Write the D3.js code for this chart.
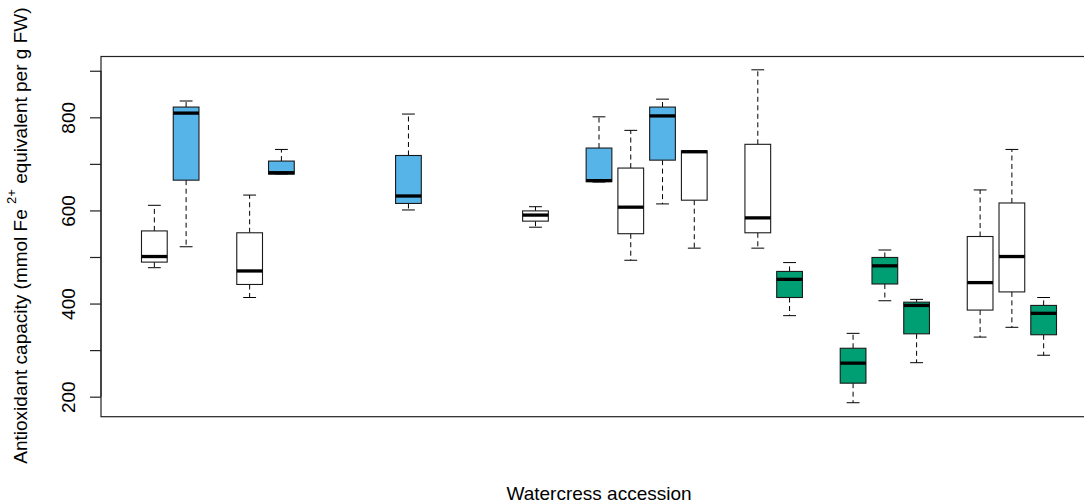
<!DOCTYPE html>
<html>
<head>
<meta charset="utf-8">
<script src="https://cdn.jsdelivr.net/npm/d3@7"></script>
<style>
  html, body { margin: 0; padding: 0; background: #fff; }
  svg { display: block; font-family: "Liberation Sans", Arial, Helvetica, sans-serif; }
</style>
</head>
<body>
<svg id="chart" width="1084" height="504"></svg>
<script>
// Slot position of each accession along the x axis (gaps are empty slots)
const accession = [1, 2, 4, 5, 9, 13, 15, 16, 17, 18, 20, 21, 23, 24, 25, 27, 28, 29];
const group     = ["none","blue","none","blue","blue","none","blue","none","blue","none","none","green","green","green","green","none","none","green"];
const whiskerLow  = [477, 522, 413, 678, 601, 564, 661, 493, 614, 519, 519, 374, 187, 406, 273, 328, 349, 289];
const q1          = [489, 665, 441, 678, 615, 577, 662, 550, 708, 622, 552, 413, 229, 442, 335, 386, 425, 333];
const median      = [501, 809, 470, 681, 631, 590, 664, 607, 803, 726, 584, 452, 272, 481, 396, 445, 501, 379];
const q3          = [556, 822, 552, 706, 718, 599, 734, 691, 822, 728, 742, 469, 304, 499, 403, 544, 616, 396];
const whiskerHigh = [611, 835, 633, 731, 807, 608, 801, 772, 839, 728, 902, 488, 336, 515, 409, 644, 731, 413];
const yTicks = [200, 300, 400, 500, 600, 700, 800, 900];
const yTickLabels = ["200", "", "400", "", "600", "", "800", ""];
const xTitle = "Watercress accession";

const fills = { none: "#ffffff", blue: "#56B4E9", green: "#009E73" };

const svg = d3.select("#chart");
const plot = { left: 101, right: 1097, top: 56.5, bottom: 416.7 };

const x = d3.scaleLinear().domain([-0.68, 30.68]).range([plot.left, plot.right]);
const y = d3.scaleLinear().domain([157, 930.6]).range([plot.bottom, plot.top]);

const unit = x(1) - x(0);
const boxW = 0.81 * unit;
const capW = boxW / 2;

const data = accession.map((p, i) => ({
  pos: p, g: group[i], lo: whiskerLow[i], q1: q1[i], med: median[i], q3: q3[i], hi: whiskerHigh[i]
}));

const g = svg.append("g");

// whiskers (dashed)
g.selectAll(".wl").data(data).enter().append("line")
  .attr("x1", d => x(d.pos)).attr("x2", d => x(d.pos))
  .attr("y1", d => y(d.q1)).attr("y2", d => y(d.lo))
  .attr("stroke", "#000").attr("stroke-width", 1).attr("stroke-dasharray", "5,3.5");
g.selectAll(".wh").data(data).enter().append("line")
  .attr("x1", d => x(d.pos)).attr("x2", d => x(d.pos))
  .attr("y1", d => y(d.q3)).attr("y2", d => y(d.hi))
  .attr("stroke", "#000").attr("stroke-width", 1).attr("stroke-dasharray", "5,3.5");
// staples
g.selectAll(".cl").data(data).enter().append("line")
  .attr("x1", d => x(d.pos) - capW / 2).attr("x2", d => x(d.pos) + capW / 2)
  .attr("y1", d => y(d.lo)).attr("y2", d => y(d.lo))
  .attr("stroke", "#000").attr("stroke-width", 1);
g.selectAll(".ch").data(data).enter().append("line")
  .attr("x1", d => x(d.pos) - capW / 2).attr("x2", d => x(d.pos) + capW / 2)
  .attr("y1", d => y(d.hi)).attr("y2", d => y(d.hi))
  .attr("stroke", "#000").attr("stroke-width", 1);
// boxes
g.selectAll(".box").data(data).enter().append("rect")
  .attr("x", d => x(d.pos) - boxW / 2)
  .attr("width", boxW)
  .attr("y", d => y(d.q3))
  .attr("height", d => Math.max(0.5, y(d.q1) - y(d.q3)))
  .attr("fill", d => fills[d.g])
  .attr("stroke", "#1a1a1a").attr("stroke-width", 1.1);
// medians
g.selectAll(".med").data(data).enter().append("line")
  .attr("x1", d => x(d.pos) - boxW / 2).attr("x2", d => x(d.pos) + boxW / 2)
  .attr("y1", d => y(d.med)).attr("y2", d => y(d.med))
  .attr("stroke", "#000").attr("stroke-width", 3.3);

// frame
svg.append("rect")
  .attr("x", plot.left).attr("y", plot.top)
  .attr("width", plot.right - plot.left).attr("height", plot.bottom - plot.top)
  .attr("fill", "none").attr("stroke", "#222").attr("stroke-width", 1.2);

// y axis
const yAxis = d3.axisLeft(y).tickValues(yTicks).tickSize(11)
  .tickFormat((d, i) => yTickLabels[i]);
const ya = svg.append("g").attr("transform", `translate(${plot.left},0)`).call(yAxis);
ya.select(".domain").attr("stroke", "#222").attr("stroke-width", 1.2)
  .attr("d", `M0,${y(900)}V${y(200)}`);
ya.selectAll(".tick line").attr("stroke", "#222").attr("stroke-width", 1.2);
ya.selectAll(".tick text")
  .attr("font-family", "Liberation Sans, Arial, sans-serif")
  .attr("font-size", 19)
  .attr("fill", "#000")
  .attr("x", 0).attr("dy", 0)
  .attr("text-anchor", "middle")
  .attr("transform", "translate(-26,0) rotate(-90)");

// y title
const yt = svg.append("text")
  .attr("transform", `translate(27,${(plot.top + plot.bottom) / 2 - 1}) rotate(-90)`)
  .attr("text-anchor", "middle")
  .attr("font-size", 19)
  .attr("fill", "#000");
yt.append("tspan").text("Antioxidant capacity (mmol Fe ");
yt.append("tspan").attr("font-size", 13).attr("dy", -11).text("2+");
yt.append("tspan").attr("dy", 11).text(" equivalent per g FW)");

// x title
svg.append("text")
  .attr("x", (plot.left + plot.right) / 2).attr("y", 500)
  .attr("text-anchor", "middle")
  .attr("font-size", 19)
  .attr("fill", "#000")
  .text(xTitle);
</script>
</body>
</html>
